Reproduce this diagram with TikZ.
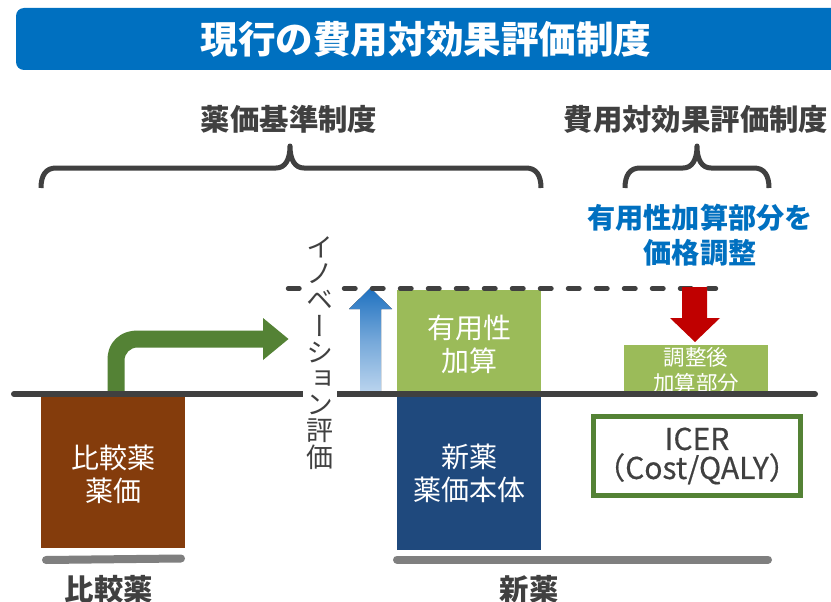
\documentclass[tikz,border=0pt]{standalone}
\usepackage{fontspec}
\setmainfont{Noto Sans CJK JP}
\newfontfamily\vertfont[RawFeature=+vert]{Noto Sans CJK JP}
\newfontfamily\heavyfont[FakeBold=0.5]{Noto Sans CJK JP}
\definecolor{titleblue}{HTML}{0070C0}
\definecolor{inkdark}{HTML}{404040}
\definecolor{brownbox}{HTML}{843C0C}
\definecolor{greendark}{HTML}{548235}
\definecolor{greenlight}{HTML}{9BBB59}
\definecolor{navybox}{HTML}{1F497D}
\definecolor{redarrow}{HTML}{C00000}
\definecolor{grayline}{HTML}{7F7F7F}
\definecolor{arrowtop}{HTML}{1F71C0}
\definecolor{arrowbottom}{HTML}{BAD4EE}
\newcommand{\fs}[2]{\fontsize{#1}{#2}\selectfont}
\tikzset{
  blockbox/.style={inner sep=0pt,outer sep=0pt,align=center,text=white},
  headlabel/.style={inner sep=0pt,align=center,text=inkdark,font=\fs{29.4}{34}\bfseries},
  bluelabel/.style={inner sep=0pt,align=center,text=titleblue,font=\fs{28.2}{34.5}\bfseries},
  brace/.style={draw=inkdark,line width=5pt,line join=round},
  axisline/.style={draw=inkdark,line width=6pt,line cap=round},
  underbar/.style={draw=grayline,line width=8pt,line cap=round},
}
\begin{document}
\begin{tikzpicture}[x=1pt,y=-1pt]
\useasboundingbox (0,0) rectangle (831,602);
\fill[white] (0,0) rectangle (831,602);
% title
\fill[titleblue,rounded corners=8pt] (16,8) rectangle (845,70);
\path[clip] (0,0) rectangle (831,602);
\node[inner sep=0pt,text=white,font=\fs{37.6}{42}\bfseries] (title) at (426,39) {現行の費用対効果評価制度};
% headings
\node[headlabel] (kijun) at (289,119) {薬価基準制度};
\node[headlabel] (cea) at (696,119) {費用対効果評価制度};
% braces
\draw[brace] (41,188) .. controls (41,175) and (46,168) .. (56,168) -- (276,168) .. controls (285,168) and (290,160) .. (290,146)
  .. controls (290,160) and (295,168) .. (304,168) -- (526,168) .. controls (536,168) and (541,175) .. (541,188);
\draw[brace] (625,188) .. controls (625,175) and (630,168) .. (640,168) -- (683,168) .. controls (692,168) and (697,160) .. (697,146)
  .. controls (697,160) and (702,168) .. (711,168) -- (754,168) .. controls (764,168) and (769,175) .. (769,188);
\node[bluelabel] (adjust) at (700,235) {有用性加算部分を\\価格調整};
% boxes
\node[blockbox,fill=brownbox,minimum width=144pt,minimum height=151pt] (comparator) at (113,472.5) {};
\node[blockbox,font=\fs{28}{33}] (comparatorlabel) at (113,474) {比較薬\\薬価};
\node[blockbox,fill=greenlight,minimum width=144pt,minimum height=101pt] (premium) at (469,340.5) {};
\node[blockbox,font=\fs{28}{33}] (premiumlabel) at (469,344) {有用性\\加算};
\node[blockbox,fill=navybox,minimum width=144pt,minimum height=153pt] (newdrug) at (469,473.5) {};
\node[blockbox,font=\fs{28}{33}] (newdruglabel) at (469,473) {新薬\\薬価本体};
\node[blockbox,fill=greenlight,minimum width=144pt,minimum height=46pt] (adjusted) at (696,368) {};
\node[blockbox,font=\fs{21.5}{26}] (adjustedlabel) at (696,370.5) {調整後\\加算部分};
% green bent arrow
\fill[greendark] (107.5,393) -- (107.5,360) .. controls (107.5,342) and (120,330.5) .. (138,330.5) -- (263,330.5) -- (263,318) -- (288.5,339) -- (263,360) -- (263,347.5) -- (138,347.5) .. controls (130,347.5) and (124.5,353) .. (124.5,361) -- (124.5,393) -- cycle;
% blue arrow
\fill[top color=arrowtop,bottom color=arrowbottom,middle color=arrowtop!45!arrowbottom] (370.5,288) -- (392,309) -- (381,309) -- (381,392) -- (360,392) -- (360,309) -- (349,309) -- cycle;
% dashed level
\coordinate (dashstart) at (288,288.5);
\coordinate (dashend) at (716,288.5);
\draw[inkdark,line width=4.4pt,line cap=round,dash pattern=on 11.5pt off 16.5pt] (dashstart) -- (dashend);
% red arrow
\fill[redarrow] (682,287) -- (707,287) -- (707,318) -- (720,318) -- (695,342) -- (670,318) -- (682,318) -- cycle;
% axis
\coordinate (axisL) at (14,394);
\coordinate (axisR) at (815,394);
\draw[axisline] (axisL) -- (axisR);
% vertical text
\node[fill=white,inner sep=0pt,minimum width=34pt,align=center,text=inkdark,font=\vertfont\fs{27}{26.2}] (innov) at (320,353) {イ\\ノ\\ベ\\ー\\シ\\ョ\\ン\\評\\価};
% ICER
\node[draw=greendark,line width=4.4pt,fill=white,minimum width=207pt,minimum height=79pt,inner sep=0pt,align=center,text=inkdark,font=\heavyfont\fs{30}{29}] (icer) at (697,456) {ICER\\（Cost/QALY）};
% bottom bars
\coordinate (barAL) at (46,560); \coordinate (barAR) at (181,558.5);
\coordinate (barBL) at (397,559.5); \coordinate (barBR) at (768,559.5);
\draw[underbar] (barAL) -- (barAR);
\draw[underbar] (barBL) -- (barBR);
\node[headlabel] (lblcomp) at (109,589) {比較薬};
\node[headlabel] (lblnew) at (529,589) {新薬};
\end{tikzpicture}
\end{document}
